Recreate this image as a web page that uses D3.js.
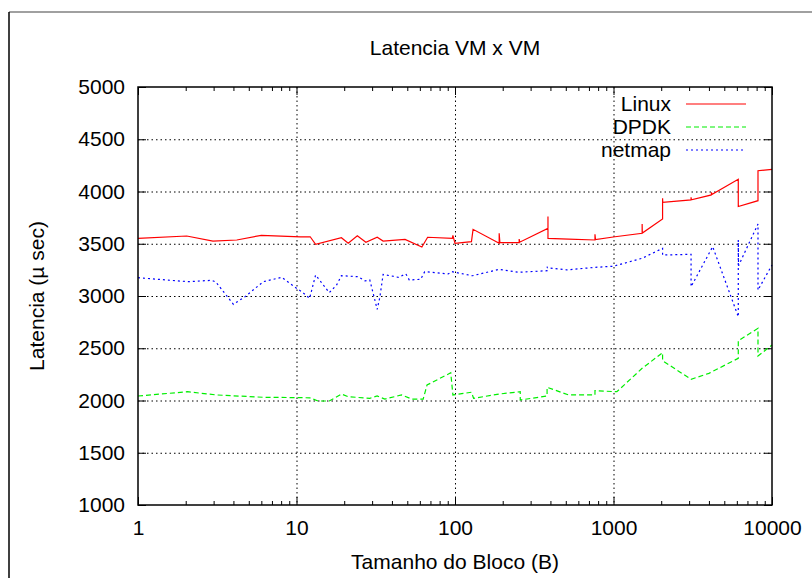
<!DOCTYPE html>
<html><head><meta charset="utf-8">
<script src="https://cdn.jsdelivr.net/npm/d3@7"></script>
<style>
body{margin:0;background:#fff;}
text{font-family:"Liberation Sans",Arial,Helvetica,sans-serif;fill:#000;}
</style></head>
<body><svg id="c" width="812" height="578"></svg>
<script>
const title = "Latencia VM x VM";
const xTitle = "Tamanho do Bloco (B)";
const yTitle = "Latencia (\u00b5 sec)";
const seriesNames = ["Linux", "DPDK", "netmap"];
const xTicks = [1, 10, 100, 1000, 10000];
const yTicks = [1000, 1500, 2000, 2500, 3000, 3500, 4000, 4500, 5000];

const linuxData = [[1,3552],[2.03,3574],[2.97,3526],[4.2,3536],[6.0,3581],[10.6,3565],[12.2,3567],[13.2,3495],[19.2,3558],[21.2,3504],[24.2,3577],[27.4,3514],[32.3,3562],[35.2,3526],[48.4,3542],[61.8,3469],[67.2,3562],[96.2,3552],[97,3580],[100,3504],[127,3520],[130,3638],[190,3505],[190,3600],[192,3510],[254,3510],[254,3545],[256,3515],[386,3648],[386,3760],[386,3552],[521,3545],[764,3536],[764,3590],[770,3540],[1022,3567],[1516,3600],[1516,3689],[1520,3602],[2040,3737],[2040,3935],[2045,3897],[3086,3919],[3086,3945],[3100,3920],[4148,3967],[4148,3993],[4170,3970],[6127,4117],[6127,3856],[8159,3912],[8159,4199],[10000,4212]];

const dpdkData = [[1,2043],[2.05,2084],[3.14,2053],[6.17,2031],[12.1,2026],[13.7,1995],[16.1,1995],[19.2,2062],[21.2,2036],[29.0,2021],[32.3,2043],[36.1,2014],[46.0,2053],[53.3,2014],[63.0,2014],[66.6,2148],[94,2265],[97,2053],[127,2079],[131,2021],[190,2062],[258,2084],[258,2005],[381,2043],[381,2126],[521,2053],[764,2053],[764,2094],[1050,2084],[1516,2308],[2040,2457],[2040,2381],[3086,2203],[4000,2260],[6127,2404],[6127,2572],[8159,2691],[8159,2426],[10000,2531]];

const netmapData = [[1,3175],[2.07,3137],[2.92,3150],[3.1,3134],[4.0,2920],[4.73,2993],[6.17,3137],[8.07,3179],[10.0,3074],[10.8,3041],[12.1,2978],[13.2,3201],[16.1,3032],[17.9,3105],[19.2,3194],[24.4,3185],[27.1,3144],[29.0,3153],[32.3,2872],[33.6,2993],[35.2,3207],[43.9,3179],[49.0,3211],[51.5,3153],[60.8,3160],[64.4,3233],[90.5,3211],[95.3,3233],[129,3194],[190,3255],[250,3227],[381,3242],[381,3281],[383,3270],[507,3250],[764,3274],[1000,3285],[1516,3361],[2040,3456],[2040,3392],[3086,3399],[3086,3089],[4224,3472],[6127,2802],[6127,3536],[6150,3290],[8159,3689],[8159,3057],[10000,3297]];

const colors = ["#ff0000", "#00ee00", "#0000ff"];
const dashes = [null, "5,3", "2,3"];
const allData = [linuxData, dpdkData, netmapData];

const svg = d3.select("#c");
const L = 138, R = 772, T = 87, B = 505;
const x = d3.scaleLog().domain([1, 10000]).range([L, R]);
const y = d3.scaleLinear().domain([1000, 5000]).range([B, T]);
const FS = "21px";

// outer frame
svg.append("line").attr("x1",9).attr("y1",12).attr("x2",812).attr("y2",12).attr("stroke","#808080").attr("stroke-width",1.5);
svg.append("line").attr("x1",9).attr("y1",12).attr("x2",9).attr("y2",578).attr("stroke","#000").attr("stroke-width",1.5);

// grid
const grid = svg.append("g").attr("stroke","#000").attr("stroke-width",1).attr("stroke-dasharray","1.5,3");
yTicks.filter(v => v > 1000 && v < 5000).forEach(v => {
  grid.append("line").attr("x1",L).attr("x2",R).attr("y1",y(v)+0.5).attr("y2",y(v)+0.5);
});
xTicks.filter(v => v > 1 && v < 10000).forEach(v => {
  grid.append("line").attr("x1",x(v)+0.5).attr("x2",x(v)+0.5).attr("y1",T).attr("y2",B);
});

// minor x ticks
const minor = [];
for (let d = 1; d < 10000; d *= 10) for (let k = 2; k <= 9; k++) minor.push(d*k);

function styleAxis(g){ g.select(".domain").remove(); g.selectAll("line").attr("stroke","#000"); g.selectAll("text").style("font-size",FS).attr("fill","#000"); }

svg.append("g").attr("transform",`translate(${L},0)`)
  .call(d3.axisLeft(y).tickValues(yTicks).tickFormat(d3.format("d")).tickSizeInner(-8).tickSizeOuter(0).tickPadding(13)).call(styleAxis);
svg.append("g").attr("transform",`translate(${R},0)`)
  .call(d3.axisRight(y).tickValues(yTicks).tickFormat("").tickSizeInner(-8).tickSizeOuter(0)).call(styleAxis);
svg.append("g").attr("transform",`translate(0,${B})`)
  .call(d3.axisBottom(x).tickValues(xTicks).tickFormat(d3.format("d")).tickSizeInner(-8).tickSizeOuter(0).tickPadding(15)).call(styleAxis);
svg.append("g").attr("transform",`translate(0,${B})`)
  .call(d3.axisBottom(x).tickValues(minor).tickFormat("").tickSizeInner(-4).tickSizeOuter(0)).call(styleAxis);
svg.append("g").attr("transform",`translate(0,${T})`)
  .call(d3.axisTop(x).tickValues(xTicks).tickFormat("").tickSizeInner(-8).tickSizeOuter(0)).call(styleAxis);
svg.append("g").attr("transform",`translate(0,${T})`)
  .call(d3.axisTop(x).tickValues(minor).tickFormat("").tickSizeInner(-4).tickSizeOuter(0)).call(styleAxis);

// lines
const line = d3.line().x(d => x(d[0])).y(d => y(d[1]));
allData.forEach((data, i) => {
  svg.append("path").datum(data).attr("d", line).attr("fill","none")
    .attr("stroke", colors[i]).attr("stroke-width", 1.2)
    .attr("stroke-dasharray", dashes[i]);
});

// plot border
svg.append("rect").attr("x",L).attr("y",T).attr("width",R-L).attr("height",B-T)
  .attr("fill","none").attr("stroke","#000").attr("stroke-width",1.5);

// legend
const legY = [104, 127, 150];
seriesNames.forEach((n, i) => {
  svg.append("text").attr("x",671).attr("y",legY[i]+7).attr("text-anchor","end").style("font-size",FS).text(n);
  svg.append("line").attr("x1",686).attr("x2",746).attr("y1",legY[i]).attr("y2",legY[i])
    .attr("stroke",colors[i]).attr("stroke-width",1.2).attr("stroke-dasharray",dashes[i]);
});

// titles
svg.append("text").attr("x",455).attr("y",55).attr("text-anchor","middle").style("font-size",FS).text(title);
svg.append("text").attr("x",455).attr("y",569).attr("text-anchor","middle").style("font-size",FS).text(xTitle);
svg.append("text").attr("transform","translate(44,296) rotate(-90)").attr("text-anchor","middle").style("font-size",FS).text(yTitle);
</script></body></html>
